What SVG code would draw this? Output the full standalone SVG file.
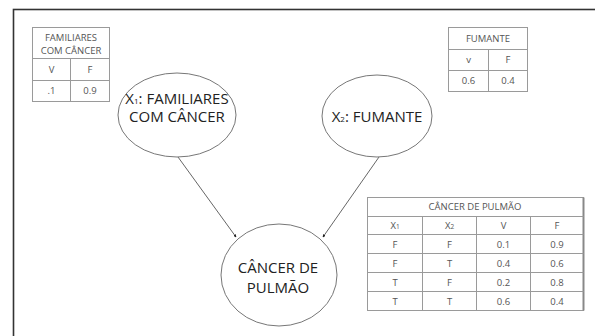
<svg xmlns="http://www.w3.org/2000/svg" width="595" height="336" viewBox="0 0 595 336">
<style>
.frame{fill:none;stroke:#333;stroke-width:1.6}
.node{fill:#fff;stroke:#777;stroke-width:1}
.nt{font-family:"Open Sans","Liberation Sans",sans-serif;font-size:15px;fill:#222;text-anchor:middle}
.tb{fill:#fff;stroke:#9a9a9a;stroke-width:1}
.tl{stroke:#9a9a9a;stroke-width:1}
.tt{font-family:"Open Sans","Liberation Sans",sans-serif;font-size:9.5px;fill:#555;text-anchor:middle}
.edge{stroke:#666;stroke-width:1;fill:none}
</style>
<defs>
<marker id="arr" viewBox="0 0 6 6" refX="5" refY="3" markerWidth="3" markerHeight="3" orient="auto">
<path d="M0,0 L6,3 L0,6 z" fill="#222"/>
</marker>
</defs>
<rect width="595" height="336" fill="#fff"/>
<rect class="frame" x="13.5" y="9.5" width="640" height="400"/>

<g id="table-familiares">
<rect class="tb" x="32.5" y="27.5" width="77" height="74"/>
<line class="tl" x1="32.5" y1="58.5" x2="109.5" y2="58.5"/>
<line class="tl" x1="32.5" y1="80.5" x2="109.5" y2="80.5"/>
<line class="tl" x1="70.5" y1="58.5" x2="70.5" y2="101.5"/>
<text class="tt" x="71" y="41">FAMILIARES</text>
<text class="tt" x="71" y="54">COM CÂNCER</text>
<text class="tt" x="51.5" y="73">V</text>
<text class="tt" x="90" y="73">F</text>
<text class="tt" x="51.5" y="94">.1</text>
<text class="tt" x="90" y="94">0.9</text>
</g>

<g id="table-fumante">
<rect class="tb" x="448.5" y="27.5" width="79" height="64"/>
<line class="tl" x1="448.5" y1="49.5" x2="527.5" y2="49.5"/>
<line class="tl" x1="448.5" y1="70.5" x2="527.5" y2="70.5"/>
<line class="tl" x1="488.5" y1="49.5" x2="488.5" y2="91.5"/>
<text class="tt" x="488" y="42">FUMANTE</text>
<text class="tt" x="468.5" y="63">v</text>
<text class="tt" x="508" y="63">F</text>
<text class="tt" x="468.5" y="84">0.6</text>
<text class="tt" x="508" y="84">0.4</text>
</g>

<g id="table-cancer">
<rect class="tb" x="367.5" y="197.5" width="216" height="113"/>
<line x1="583.5" y1="197.5" x2="583.5" y2="310.5" stroke="#888" stroke-width="2"/>
<line class="tl" x1="367.5" y1="216.5" x2="583.5" y2="216.5"/>
<line class="tl" x1="367.5" y1="234.5" x2="583.5" y2="234.5"/>
<line class="tl" x1="367.5" y1="253.5" x2="583.5" y2="253.5"/>
<line class="tl" x1="367.5" y1="272.5" x2="583.5" y2="272.5"/>
<line class="tl" x1="367.5" y1="291.5" x2="583.5" y2="291.5"/>
<line class="tl" x1="422.5" y1="216.5" x2="422.5" y2="310.5"/>
<line class="tl" x1="476.5" y1="216.5" x2="476.5" y2="310.5"/>
<line class="tl" x1="530.5" y1="216.5" x2="530.5" y2="310.5"/>
<text class="tt" x="475" y="210">CÂNCER DE PULMÃO</text>
<text class="tt" x="395" y="229">X<tspan font-size="6.5">1</tspan></text>
<text class="tt" x="449.5" y="229">X<tspan font-size="6.5">2</tspan></text>
<text class="tt" x="503.5" y="229">V</text>
<text class="tt" x="557" y="229">F</text>
<text class="tt" x="395" y="247.5">F</text>
<text class="tt" x="449.5" y="247.5">F</text>
<text class="tt" x="503.5" y="247.5">0.1</text>
<text class="tt" x="557" y="247.5">0.9</text>
<text class="tt" x="395" y="266.5">F</text>
<text class="tt" x="449.5" y="266.5">T</text>
<text class="tt" x="503.5" y="266.5">0.4</text>
<text class="tt" x="557" y="266.5">0.6</text>
<text class="tt" x="395" y="285.5">T</text>
<text class="tt" x="449.5" y="285.5">F</text>
<text class="tt" x="503.5" y="285.5">0.2</text>
<text class="tt" x="557" y="285.5">0.8</text>
<text class="tt" x="395" y="304.5">T</text>
<text class="tt" x="449.5" y="304.5">T</text>
<text class="tt" x="503.5" y="304.5">0.6</text>
<text class="tt" x="557" y="304.5">0.4</text>
</g>

<g id="connectors">
<line class="edge" x1="178" y1="157" x2="236" y2="237" marker-end="url(#arr)"/>
<line class="edge" x1="379" y1="157" x2="323" y2="237" marker-end="url(#arr)"/>
</g>

<g id="node-x1">
<ellipse class="node" cx="177" cy="115" rx="59" ry="42"/>
<text class="nt" x="177" y="104">X<tspan font-size="8">1</tspan>: FAMILIARES</text>
<text class="nt" x="177" y="122">COM CÂNCER</text>
</g>

<g id="node-x2">
<ellipse class="node" cx="377" cy="116" rx="55" ry="41"/>
<text class="nt" x="377" y="122">X<tspan font-size="8">2</tspan>: FUMANTE</text>
</g>

<g id="node-cancer">
<ellipse class="node" cx="279" cy="275" rx="58" ry="51"/>
<text class="nt" x="278" y="273">CÂNCER DE</text>
<text class="nt" x="278" y="293">PULMÃO</text>
</g>
</svg>
